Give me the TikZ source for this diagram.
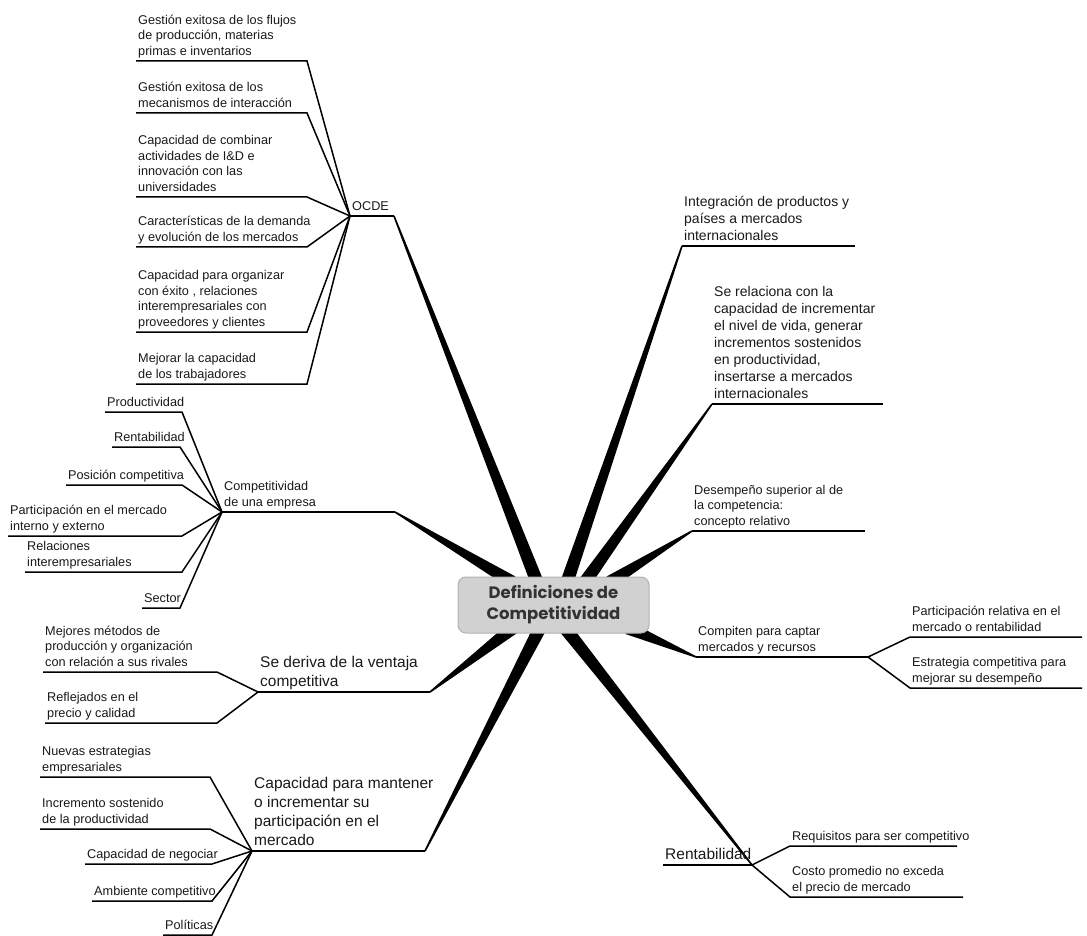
\documentclass[tikz,border=0pt]{standalone}
\usepackage{fontspec}
\setmainfont{Liberation Sans}
\newfontfamily\titlefont{Poppins}
\usetikzlibrary{positioning, calc, backgrounds}

\begin{document}
\begin{tikzpicture}[
        x=1pt, y=-1pt,
        central/.style={rectangle, draw=black!30, fill=black!18, rounded corners=8pt, line width=1pt,
                minimum width=191pt, minimum height=56pt, align=center,
                font=\titlefont\bfseries\fontsize{16.5}{21}\selectfont, text=black!80},
        topic/.style={anchor=south west, align=left, inner xsep=2pt, inner ysep=2.5pt, text depth=3pt,
                font=\fontsize{15.5}{19}\selectfont, text=black!90},
        midtopic/.style={topic, font=\fontsize{14}{17}\selectfont},
        leaf/.style={topic, font=\fontsize{12.7}{15.5}\selectfont},
        branch/.style={fill=black},
        twig/.style={draw=black, line width=1.5pt},
    ]
        \useasboundingbox (0,0) rectangle (1087,936);

        % === CENTRE ===
        \node[central] (core) at (553.5,605) {Definiciones de\\Competitividad};

        % === MAIN TOPICS (left) ===
        \node[leaf] (ocde) at (350,216) {OCDE};
        \node[leaf] (empresa) at (222,512) {Competitividad\\de una empresa};
        \node[topic] (ventaja) at (258,692) {Se deriva de la ventaja\\competitiva};
        \node[topic] (mantener) at (252,851) {Capacidad para mantener\\o incrementar su\\participación en el\\mercado};

        % === MAIN TOPICS (right) ===
        \node[midtopic] (integra) at (682,246) {Integración de productos y\\países a mercados\\internacionales};
        \node[midtopic] (nivel) at (712,404) {Se relaciona con la\\capacidad de incrementar\\el nivel de vida, generar\\incrementos sostenidos\\en productividad,\\insertarse a mercados\\internacionales};
        \node[leaf] (desemp) at (692,531) {Desempeño superior al de\\la competencia:\\concepto relativo};
        \node[leaf] (compiten) at (696,657) {Compiten para captar\\mercados y recursos};
        \node[topic] (rentab) at (663,865) {Rentabilidad};

        % underline ends
        \coordinate (tocde) at ($(ocde.south west)+(44,0)$);
        \coordinate (tempresa) at ($(empresa.south west)+(173,0)$);
        \coordinate (tventaja) at ($(ventaja.south west)+(172,0)$);
        \coordinate (tmantener) at ($(mantener.south west)+(173,0)$);
        \coordinate (tcompiten) at ($(compiten.south west)+(172,0)$);
        \coordinate (trentab) at ($(rentab.south west)+(89,0)$);

        \draw[twig] (ocde.south west) -- (tocde);
        \draw[twig] (empresa.south west) -- (tempresa);
        \draw[twig] (ventaja.south west) -- (tventaja);
        \draw[twig] (mantener.south west) -- (tmantener);
        \draw[twig] (compiten.south west) -- (tcompiten);
        \draw[twig] (rentab.south west) -- (trentab);
        \draw[twig] (integra.south west) -- ++(173,0);
        \draw[twig] (nivel.south west) -- ++(171,0);
        \draw[twig] (desemp.south west) -- ++(173,0);

        % === MAIN BRANCHES ===
        \coordinate (bempresa) at (512,582);
        \coordinate (bocde) at (537,582);
        \coordinate (bintegra) at (567,582);
        \coordinate (bnivel) at (585,582);
        \coordinate (bdesemp) at (610,582);
        \coordinate (bventaja) at (513,628);
        \coordinate (bmantener) at (540,628);
        \coordinate (brentab) at (565,628);
        \coordinate (bcompiten) at (628,628);

        \begin{scope}[on background layer]
            \foreach \tip/\base in {tocde/bocde, tempresa/bempresa, tventaja/bventaja, tmantener/bmantener,
                    trentab/brentab, compiten.south west/bcompiten, integra.south west/bintegra,
                    nivel.south west/bnivel, desemp.south west/bdesemp} {
                    \fill[branch] ($(\base)!6.5pt!90:(\tip)$) -- ($(\tip)!0.8pt!-90:(\base)$)
                        -- ($(\tip)!0.8pt!90:(\base)$) -- ($(\base)!6.5pt!-90:(\tip)$) -- cycle;
                }
        \end{scope}

        % === OCDE ===
        \node[leaf] (oc1) at (136,61) {Gestión exitosa de los flujos\\de producción, materias\\primas e inventarios};
        \node[leaf] (oc2) at (136,113) {Gestión exitosa de los\\mecanismos de interacción};
        \node[leaf] (oc3) at (136,197) {Capacidad de combinar\\actividades de I\&D e\\innovación con las\\universidades};
        \node[leaf] (oc4) at (136,247) {Características de la demanda\\y evolución de los mercados};
        \node[leaf] (oc5) at (136,332) {Capacidad para organizar\\con éxito , relaciones\\interempresariales con\\proveedores y clientes};
        \node[leaf] (oc6) at (136,384) {Mejorar la capacidad\\de los trabajadores};
        \foreach \leafnode in {oc1, oc2, oc3, oc4, oc5, oc6} {
                \draw[twig] (ocde.south west) -- ($(\leafnode.south west)+(171,0)$) -- (\leafnode.south west);
            }

        % === COMPETITIVIDAD DE UNA EMPRESA ===
        \node[leaf] (em1) at (105,412) {Productividad};
        \node[leaf] (em2) at (112,447) {Rentabilidad};
        \node[leaf] (em3) at (66,485) {Posición competitiva};
        \node[leaf] (em4) at (8,536) {Participación en el mercado\\interno y externo};
        \node[leaf] (em5) at (25,572) {Relaciones\\interempresariales};
        \node[leaf] (em6) at (142,608) {Sector};
        \foreach \leafnode/\len in {em1/77, em2/68, em3/116, em4/174, em5/157, em6/38} {
                \draw[twig] (empresa.south west) -- ($(\leafnode.south west)+(\len,0)$) -- (\leafnode.south west);
            }

        % === VENTAJA COMPETITIVA ===
        \node[leaf] (ve1) at (43,672) {Mejores métodos de\\producción y organización\\con relación a sus rivales};
        \node[leaf] (ve2) at (45,723) {Reflejados en el\\precio y calidad};
        \foreach \leafnode/\len in {ve1/174, ve2/172} {
                \draw[twig] (ventaja.south west) -- ($(\leafnode.south west)+(\len,0)$) -- (\leafnode.south west);
            }

        % === PARTICIPACION EN EL MERCADO ===
        \node[leaf] (ma1) at (40,777) {Nuevas estrategias\\empresariales};
        \node[leaf] (ma2) at (40,829) {Incremento sostenido\\de la productividad};
        \node[leaf] (ma3) at (85,864) {Capacidad de negociar};
        \node[leaf] (ma4) at (92,901) {Ambiente competitivo};
        \node[leaf] (ma5) at (163,935) {Políticas};
        \foreach \leafnode/\len in {ma1/170, ma2/170, ma3/127, ma4/120, ma5/49} {
                \draw[twig] (mantener.south west) -- ($(\leafnode.south west)+(\len,0)$) -- (\leafnode.south west);
            }

        % === COMPITEN ===
        \node[leaf] (co1) at (910,637) {Participación relativa en el\\mercado o rentabilidad};
        \node[leaf] (co2) at (910,688) {Estrategia competitiva para\\mejorar su desempeño};
        \foreach \leafnode in {co1, co2} {
                \draw[twig] (tcompiten) -- (\leafnode.south west) -- ++(172,0);
            }

        % === RENTABILIDAD ===
        \node[leaf] (re1) at (790,846) {Requisitos para ser competitivo};
        \node[leaf] (re2) at (790,897) {Costo promedio no exceda\\el precio de mercado};
        \foreach \leafnode/\len in {re1/167, re2/173} {
                \draw[twig] (trentab) -- (\leafnode.south west) -- ++(\len,0);
            }
    \end{tikzpicture}
\end{document}
